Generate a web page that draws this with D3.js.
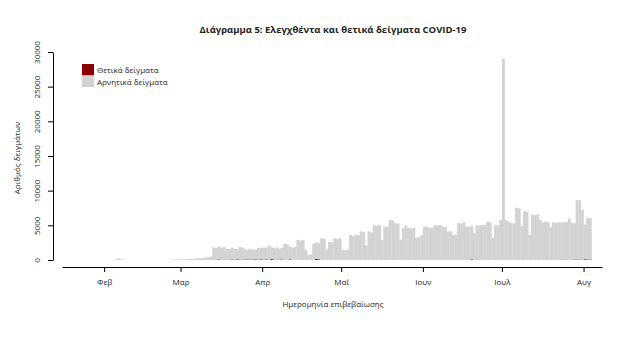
<!DOCTYPE html>
<html>
<head>
<meta charset="utf-8">
<script src="https://cdn.jsdelivr.net/npm/d3@7"></script>
<style>
    body { margin: 0; background: #fff; }
    svg { display: block; }
    text { font-family: "Open Sans", "Noto Sans", sans-serif; fill: #222; }
</style>
</head>
<body>
<div id="chart"></div>
<script>
// Daily samples from 1 Feb 2020 (one value per day)
const startDate = '2020-02-01';

const negativeSamples = [
    // Feb
    0, 0, 0, 0, 150, 200, 100, 0, 0, 0, 0, 0, 0, 0, 0, 0, 0, 0, 0, 0, 0, 0, 0, 0, 0, 40, 60, 90, 110,
    // Mar
    80, 120, 150, 180, 140, 200, 250, 220, 300, 350, 400, 450, 1800, 1700, 1850, 1750, 1800,
    1600, 1550, 1650, 1600, 1500, 1800, 1750, 1450, 1400, 1500, 1450, 1400, 1700, 1650,
    // Apr
    1750, 1700, 2050, 1700, 1650, 1750, 1600, 1700, 2300, 2250, 1800, 1750, 1850, 2900, 2800,
    2850, 1450, 700, 800, 2300, 2400, 2350, 3100, 3050, 1500, 2600, 2550, 3100, 3000, 3150,
    // May
    1450, 1400, 1500, 3600, 3500, 3650, 3550, 4100, 4050, 2100, 4100, 4000, 5000, 4900, 5050, 2900,
    4800, 4750, 5750, 5700, 5300, 5250, 2900, 4600, 5000, 4600, 4550, 4650, 3200, 3300, 3600,
    // Jun
    4800, 4750, 4600, 4650, 5000, 4950, 5050, 4800, 4750, 4100, 4150, 3600, 3650, 5300, 5250,
    5500, 4800, 4750, 4850, 3900, 5000, 4950, 5050, 5000, 5500, 5450, 3200, 5000, 4950, 5750,
    // Jul
    29000, 5750, 5500, 5300, 5250, 7500, 7450, 4900, 7000, 6950, 3600, 6500, 6450, 6550, 5800, 5400,
    5500, 5450, 4700, 5400, 5350, 5400, 5350, 5450, 5400, 6000, 5300, 5250, 8600, 8550, 7200,
    // Aug
    5000, 6000, 5950
];

const positiveSamples = [
    // Feb
    0, 0, 0, 0, 0, 0, 0, 0, 0, 0, 0, 0, 0, 0, 0, 0, 0, 0, 0, 0, 0, 0, 0, 0, 0, 1, 2, 1, 0,
    // Mar
    0, 5, 0, 2, 1, 22, 13, 20, 11, 10, 1, 33, 27, 38, 97, 21, 56, 31, 46, 77, 31, 94, 71, 48, 73,
    78, 74, 71, 95, 60, 97,
    // Apr
    50, 82, 49, 129, 62, 56, 60, 81, 20, 25, 95, 30, 19, 8, 21, 13, 31, 16, 21, 9,
    156, 100, 17, 14, 6, 11, 16, 21, 12, 6,
    // May
    15, 12, 19, 10, 2, 9, 6, 9, 12, 6, 5, 1, 13, 18, 9, 12, 6, 9, 7, 10, 5, 4, 15, 7, 5, 7, 8, 15, 11, 4, 0,
    // Jun
    6, 15, 2, 6, 7, 5, 8, 10, 3, 10, 6, 5, 9, 18, 14, 6, 9, 12, 97, 28, 15, 13, 16, 24, 7, 15, 20, 14, 34, 20,
    // Jul
    19, 32, 18, 17, 20, 28, 11, 21, 24, 24, 21, 19, 16, 8, 19, 27, 28, 28, 29, 27,
    20, 21, 35, 52, 46, 28, 29, 57, 69, 59, 44,
    // Aug
    110, 75, 75
];

const xDomain = ['2020-01-16', '2020-08-08'];
const monthTicks = ['2020-02-01', '2020-03-01', '2020-04-01', '2020-05-01', '2020-06-01', '2020-07-01', '2020-08-01'];
const monthLabels = ['Φεβ', 'Μαρ', 'Απρ', 'Μαΐ', 'Ιουν', 'Ιουλ', 'Αυγ'];
const yTicks = [0, 5000, 10000, 15000, 20000, 25000, 30000];
const seriesKeys = ['positive', 'negative'];
const seriesNames = ['Θετικά δείγματα', 'Αρνητικά δείγματα'];
const seriesColors = ['#8b0000', '#d3d3d3'];

const titleText = 'Διάγραμμα 5: Ελεγχθέντα και θετικά δείγματα COVID-19';
const xTitle = 'Ημερομηνία επιβεβαίωσης';
const yTitle = 'Αριθμός δειγμάτων';

const W = 628, H = 351;
const parse = d3.utcParse('%Y-%m-%d');
const start = parse(startDate);

const rows = negativeSamples.map((neg, i) => ({
    date: d3.utcDay.offset(start, i),
    positive: positiveSamples[i],
    negative: neg
}));

const svg = d3.select('#chart').append('svg')
    .attr('width', W)
    .attr('height', H);

svg.append('rect').attr('width', W).attr('height', H).attr('fill', '#fff');

// Scales
const x = d3.scaleUtc()
    .domain(xDomain.map(parse))
    .range([62, 602]);

const y = d3.scaleLinear()
    .domain([0, 30000])
    .range([260, 52]);

// Bars (stacked: positives under negatives)
const stacked = d3.stack().keys(seriesKeys)(rows);

svg.append('g')
    .selectAll('g')
    .data(stacked)
    .join('g')
    .attr('fill', (d, i) => seriesColors[i])
    .selectAll('rect')
    .data(d => d)
    .join('rect')
    .attr('x', d => x(d.data.date))
    .attr('width', d => x(d3.utcDay.offset(d.data.date, 1)) - x(d.data.date) + 0.3)
    .attr('y', d => y(d[1]))
    .attr('height', d => Math.max(0, y(d[0]) - y(d[1])));

// Axes
const xAxis = d3.axisBottom(x)
    .tickValues(monthTicks.map(parse))
    .tickFormat((d, i) => monthLabels[i])
    .tickSize(5)
    .tickSizeOuter(0)
    .tickPadding(7);

const gx = svg.append('g')
    .attr('transform', 'translate(0,267)')
    .call(xAxis);

const yAxis = d3.axisLeft(y)
    .tickValues(yTicks)
    .tickFormat(d3.format('d'))
    .tickSize(5)
    .tickSizeOuter(0);

const gy = svg.append('g')
    .attr('transform', 'translate(53,0)')
    .call(yAxis);

gy.selectAll('.tick text')
    .attr('x', 0)
    .attr('y', -13)
    .attr('dy', 0)
    .attr('text-anchor', 'middle')
    .attr('transform', 'rotate(-90)');

svg.selectAll('.domain, .tick line').attr('stroke', '#000');
svg.selectAll('.tick text')
    .attr('fill', '#222')
    .style('font-family', '"Open Sans", "Noto Sans", sans-serif')
    .style('font-size', '8px');

// Titles
svg.append('text')
    .attr('x', 333)
    .attr('y', 33)
    .attr('text-anchor', 'middle')
    .style('font-weight', 'bold')
    .style('font-size', '9.5px')
    .text(titleText);

svg.append('text')
    .attr('x', 333)
    .attr('y', 307)
    .attr('text-anchor', 'middle')
    .style('font-size', '8px')
    .text(xTitle);

svg.append('text')
    .attr('transform', 'translate(20,158) rotate(-90)')
    .attr('text-anchor', 'middle')
    .style('font-size', '8px')
    .text(yTitle);

// Legend
const legend = svg.append('g').attr('transform', 'translate(82,64)');
seriesNames.forEach((name, i) => {
    legend.append('rect')
        .attr('x', 0)
        .attr('y', i * 11.5)
        .attr('width', 12)
        .attr('height', 11.5)
        .attr('fill', seriesColors[i]);
    legend.append('text')
        .attr('x', 15)
        .attr('y', i * 11.5 + 9)
        .style('font-size', '8px')
        .text(name);
});
</script>
</body>
</html>
